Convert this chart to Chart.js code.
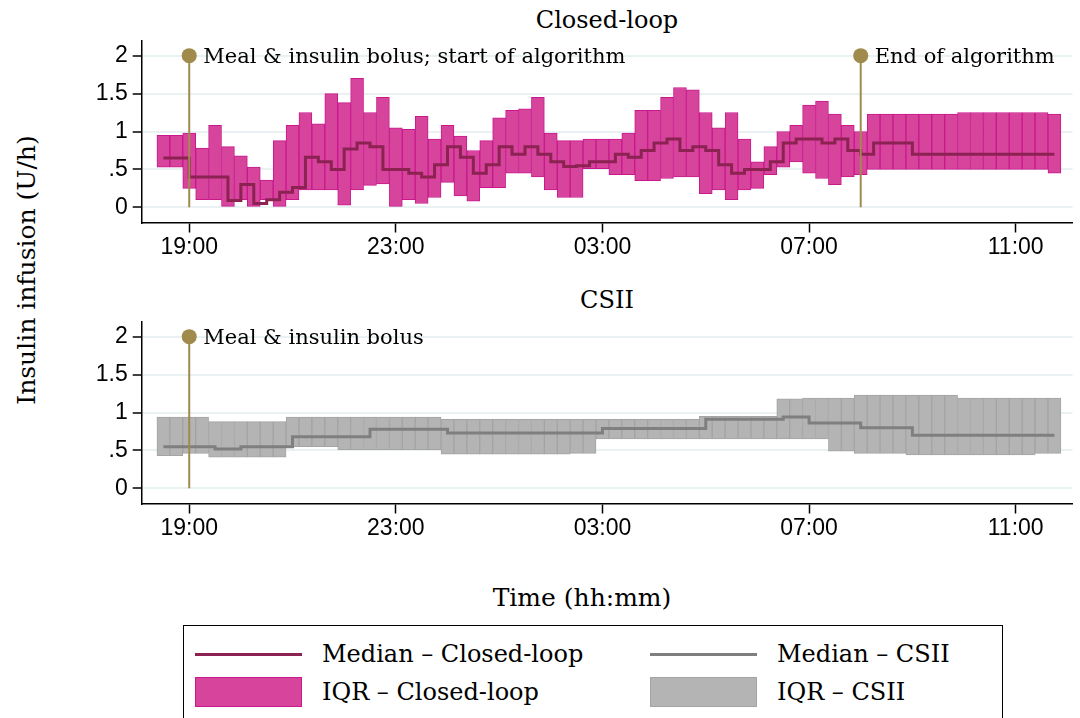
<!DOCTYPE html>
<html>
<head>
<meta charset="utf-8">
<script src="https://cdn.jsdelivr.net/npm/chart.js@4.4.1/dist/chart.umd.min.js"></script>
<style>
    body { margin: 0; background: #fff; width: 1080px; height: 718px; overflow: hidden; position: relative; font-family: 'DejaVu Serif', serif; color: #000; }
    canvas.panel { position: absolute; left: 0; }
    .txt { position: absolute; white-space: nowrap; text-align: center; }
    .legend { position: absolute; left: 183px; top: 625px; width: 818px; height: 120px; border: 1.5px solid #000; }
    .legend .item { position: absolute; font-size: 24px; line-height: 28px; white-space: nowrap; }
    .legend .swatch { position: absolute; }
</style>
</head>
<body>
<div class="txt" style="left:457px; width:300px; top:6px; font-size:24px; line-height:28px;">Closed-loop</div>
<div class="txt" style="left:457px; width:300px; top:286px; font-size:24px; line-height:28px;">CSII</div>
<div class="txt" style="left:-123px; width:300px; top:256px; font-size:25px; line-height:28px; transform: rotate(-90deg);">Insulin infusion (U/h)</div>
<div class="txt" style="left:432px; width:300px; top:584px; font-size:25px; line-height:28px;">Time (hh:mm)</div>

<canvas id="closed-loop-chart" class="panel" width="1080" height="260" style="top:0px"></canvas>
<canvas id="csii-chart" class="panel" width="1080" height="260" style="top:281px"></canvas>

<div class="legend">
    <div class="swatch" style="left:11px; top:27px; width:107px; height:3px; background:#8b2252;"></div>
    <div class="item" style="left:138px; top:14px;">Median – Closed-loop</div>
    <div class="swatch" style="left:466px; top:27px; width:107px; height:3px; background:#7f7f7f;"></div>
    <div class="item" style="left:593px; top:14px;">Median – CSII</div>
    <div class="swatch" style="left:11px; top:51px; width:105px; height:28px; background:#d6449c; border:1px solid #c8188c;"></div>
    <div class="item" style="left:138px; top:52px;">IQR – Closed-loop</div>
    <div class="swatch" style="left:466px; top:51px; width:105px; height:28px; background:#b4b4b4; border:1px solid #a4a4a4;"></div>
    <div class="item" style="left:593px; top:52px;">IQR – CSII</div>
</div>

<script>
// Time slots: every 15 min from 18:30 to 11:45, x in hours after 19:00
const slotStartHours = -0.5;
const slotStepHours = 0.25;

// Closed-loop: interquartile range and median (U/h) per slot
const closedLow = [
    0.53, 0.53, 0.25, 0.10, 0.10, 0.00, 0.10, 0.00, 0.10, 0.00,
    0.10, 0.23, 0.23, 0.23, 0.03, 0.23, 0.29, 0.31, 0.00, 0.10,
    0.05, 0.13, 0.33, 0.15, 0.08, 0.26, 0.26, 0.45, 0.45, 0.40,
    0.23, 0.13, 0.13, 0.51, 0.51, 0.43, 0.43, 0.35, 0.35, 0.38,
    0.40, 0.40, 0.18, 0.23, 0.10, 0.23, 0.25, 0.43, 0.53, 0.60,
    0.45, 0.38, 0.30, 0.40, 0.43, 0.50, 0.50, 0.50, 0.50, 0.50,
    0.50, 0.50, 0.50, 0.50, 0.50, 0.50, 0.50, 0.50, 0.50, 0.45
];
const closedHigh = [
    0.95, 0.95, 0.98, 0.78, 1.08, 0.80, 0.68, 0.53, 0.36, 0.88,
    1.08, 1.25, 1.10, 1.50, 1.38, 1.70, 1.25, 1.45, 1.05, 1.03,
    1.20, 0.90, 1.08, 0.94, 0.75, 0.88, 1.18, 1.28, 1.30, 1.45,
    0.98, 0.88, 0.88, 0.90, 0.90, 0.90, 0.98, 1.28, 1.28, 1.45,
    1.58, 1.55, 1.25, 1.05, 1.25, 0.90, 0.60, 0.80, 1.00, 1.08,
    1.35, 1.40, 1.23, 1.08, 1.00, 1.23, 1.23, 1.23, 1.23, 1.23,
    1.23, 1.23, 1.25, 1.25, 1.25, 1.25, 1.25, 1.25, 1.25, 1.23
];
const closedMedian = [
    0.65, 0.65, 0.40, 0.40, 0.40, 0.09, 0.30, 0.05, 0.10, 0.20,
    0.26, 0.66, 0.60, 0.50, 0.77, 0.85, 0.80, 0.50, 0.50, 0.45,
    0.40, 0.56, 0.80, 0.66, 0.45, 0.56, 0.80, 0.70, 0.80, 0.70,
    0.60, 0.54, 0.55, 0.60, 0.60, 0.70, 0.66, 0.75, 0.85, 0.90,
    0.75, 0.80, 0.75, 0.56, 0.45, 0.50, 0.50, 0.60, 0.85, 0.90,
    0.90, 0.85, 0.90, 0.75, 0.70, 0.85, 0.85, 0.85, 0.70, 0.70,
    0.70, 0.70, 0.70, 0.70, 0.70, 0.70, 0.70, 0.70, 0.70, 0.70
];

// CSII: interquartile range and median (U/h) per slot
const csiiLow = [
    0.43, 0.43, 0.46, 0.46, 0.41, 0.41, 0.41, 0.41, 0.41, 0.41,
    0.55, 0.55, 0.55, 0.55, 0.51, 0.51, 0.51, 0.51, 0.51, 0.51,
    0.51, 0.51, 0.45, 0.45, 0.45, 0.45, 0.45, 0.45, 0.45, 0.45,
    0.45, 0.45, 0.46, 0.46, 0.65, 0.65, 0.65, 0.65, 0.65, 0.65,
    0.65, 0.65, 0.65, 0.65, 0.65, 0.65, 0.65, 0.65, 0.65, 0.65,
    0.65, 0.65, 0.49, 0.49, 0.46, 0.46, 0.46, 0.46, 0.44, 0.44,
    0.44, 0.44, 0.44, 0.44, 0.44, 0.44, 0.44, 0.44, 0.46, 0.46
];
const csiiHigh = [
    0.94, 0.94, 0.94, 0.94, 0.88, 0.88, 0.88, 0.88, 0.88, 0.88,
    0.94, 0.94, 0.94, 0.94, 0.94, 0.94, 0.94, 0.94, 0.94, 0.94,
    0.94, 0.94, 0.91, 0.91, 0.91, 0.91, 0.91, 0.91, 0.91, 0.91,
    0.91, 0.91, 0.91, 0.91, 0.91, 0.91, 0.91, 0.91, 0.91, 0.91,
    0.91, 0.91, 0.95, 0.95, 0.95, 0.95, 0.95, 0.95, 1.18, 1.18,
    1.19, 1.19, 1.19, 1.19, 1.23, 1.23, 1.23, 1.23, 1.23, 1.23,
    1.23, 1.23, 1.19, 1.19, 1.19, 1.19, 1.19, 1.19, 1.19, 1.19
];
const csiiMedian = [
    0.55, 0.55, 0.55, 0.55, 0.52, 0.52, 0.55, 0.55, 0.55, 0.55,
    0.68, 0.68, 0.68, 0.68, 0.68, 0.68, 0.78, 0.78, 0.78, 0.78,
    0.78, 0.78, 0.73, 0.73, 0.73, 0.73, 0.73, 0.73, 0.73, 0.73,
    0.73, 0.73, 0.73, 0.73, 0.79, 0.79, 0.79, 0.79, 0.79, 0.79,
    0.79, 0.79, 0.91, 0.91, 0.91, 0.91, 0.91, 0.91, 0.94, 0.94,
    0.86, 0.86, 0.86, 0.86, 0.80, 0.80, 0.80, 0.80, 0.70, 0.70,
    0.70, 0.70, 0.70, 0.70, 0.70, 0.70, 0.70, 0.70, 0.70, 0.70
];

// Axis ticks
const xTickHours = [0, 4, 8, 12, 16];
const xTickLabels = ['19:00', '23:00', '03:00', '07:00', '11:00'];
const yTickValues = [0, 0.5, 1, 1.5, 2];
const yTickLabels = ['0', '.5', '1', '1.5', '2'];

// Event markers (hours after 19:00)
const closedMarkers = [
    { hour: 0, label: 'Meal & insulin bolus; start of algorithm' },
    { hour: 13, label: 'End of algorithm' }
];
const csiiMarkers = [
    { hour: 0, label: 'Meal & insulin bolus' }
];

const markerColor = '#a08a4c';
const markerLevel = 2;

const slotX = (i) => slotStartHours + slotStepHours * i;

// Draws the marker text next to the marker dots
const markerLabels = {
    id: 'markerLabels',
    afterDatasetsDraw(chart, args, opts) {
        const { ctx, scales } = chart;
        ctx.save();
        ctx.font = '21px "DejaVu Serif"';
        ctx.fillStyle = '#000';
        ctx.textBaseline = 'alphabetic';
        opts.markers.forEach(m => {
            const px = scales.x.getPixelForValue(m.hour) + 14;
            const py = scales.y.getPixelForValue(markerLevel) + 7.5;
            ctx.fillText(m.label, px, py);
        });
        ctx.restore();
    }
};

const makePanel = (canvasId, lows, highs, medians, markers, colors) => {
    const bars = lows.map((lo, i) => ({ x: slotX(i), y: [lo, highs[i]] }));
    const medianPts = medians.map((m, i) => ({ x: slotX(i), y: m }));
    const markerSets = markers.map(m => ({
        type: 'line',
        data: [{ x: m.hour, y: 0 }, { x: m.hour, y: markerLevel }],
        borderColor: markerColor,
        borderWidth: 2,
        pointRadius: [0, 7.5],
        pointBackgroundColor: markerColor,
        pointBorderWidth: 0,
        order: 0
    }));
    return new Chart(document.getElementById(canvasId), {
        type: 'bar',
        data: {
            datasets: [
                {
                    type: 'bar',
                    data: bars,
                    backgroundColor: colors.fill,
                    borderColor: colors.border,
                    borderWidth: 1,
                    borderSkipped: false,
                    barPercentage: 1,
                    categoryPercentage: 1,
                    order: 2
                },
                {
                    type: 'line',
                    data: medianPts,
                    stepped: true,
                    borderColor: colors.median,
                    borderWidth: 3,
                    pointRadius: 0,
                    order: 1
                },
                ...markerSets
            ]
        },
        options: {
            responsive: false,
            animation: false,
            devicePixelRatio: 1,
            layout: { padding: { left: 0, right: 5, top: 40.5, bottom: 0 } },
            plugins: {
                legend: { display: false },
                tooltip: { enabled: false },
                markerLabels: { markers: markers }
            },
            scales: {
                x: {
                    type: 'linear',
                    offset: false,
                    min: -0.92,
                    max: 17.1,
                    afterBuildTicks: (axis) => { axis.ticks = xTickHours.map(v => ({ value: v })); },
                    afterFit: (axis) => { axis.height = 37.5; },
                    ticks: {
                        autoSkip: false,
                        maxRotation: 0,
                        padding: 1,
                        color: '#000',
                        font: { family: 'Liberation Sans', size: 23 },
                        callback: (v) => xTickLabels[xTickHours.indexOf(v)]
                    },
                    grid: { offset: false, drawOnChartArea: false, drawTicks: true, tickLength: 10, tickColor: '#000', tickWidth: 1.5 },
                    border: { display: true, color: '#000', width: 1.5 }
                },
                y: {
                    type: 'linear',
                    min: -0.2,
                    max: 2.2,
                    afterBuildTicks: (axis) => { axis.ticks = yTickValues.map(v => ({ value: v })); },
                    afterFit: (axis) => { axis.width = 141.7; },
                    ticks: {
                        padding: 5,
                        color: '#000',
                        font: { family: 'Liberation Sans', size: 23 },
                        callback: (v) => yTickLabels[yTickValues.indexOf(v)]
                    },
                    grid: { color: '#e9f1f3', lineWidth: 2, drawTicks: true, tickLength: 9, tickColor: '#000', tickWidth: 1.5 },
                    border: { display: true, color: '#000', width: 1.5 }
                }
            }
        },
        plugins: [markerLabels]
    });
};

makePanel('closed-loop-chart', closedLow, closedHigh, closedMedian, closedMarkers,
    { fill: '#d6449c', border: '#c8188c', median: '#8b2252' });
makePanel('csii-chart', csiiLow, csiiHigh, csiiMedian, csiiMarkers,
    { fill: '#b4b4b4', border: '#a4a4a4', median: '#7f7f7f' });
</script>
</body>
</html>
